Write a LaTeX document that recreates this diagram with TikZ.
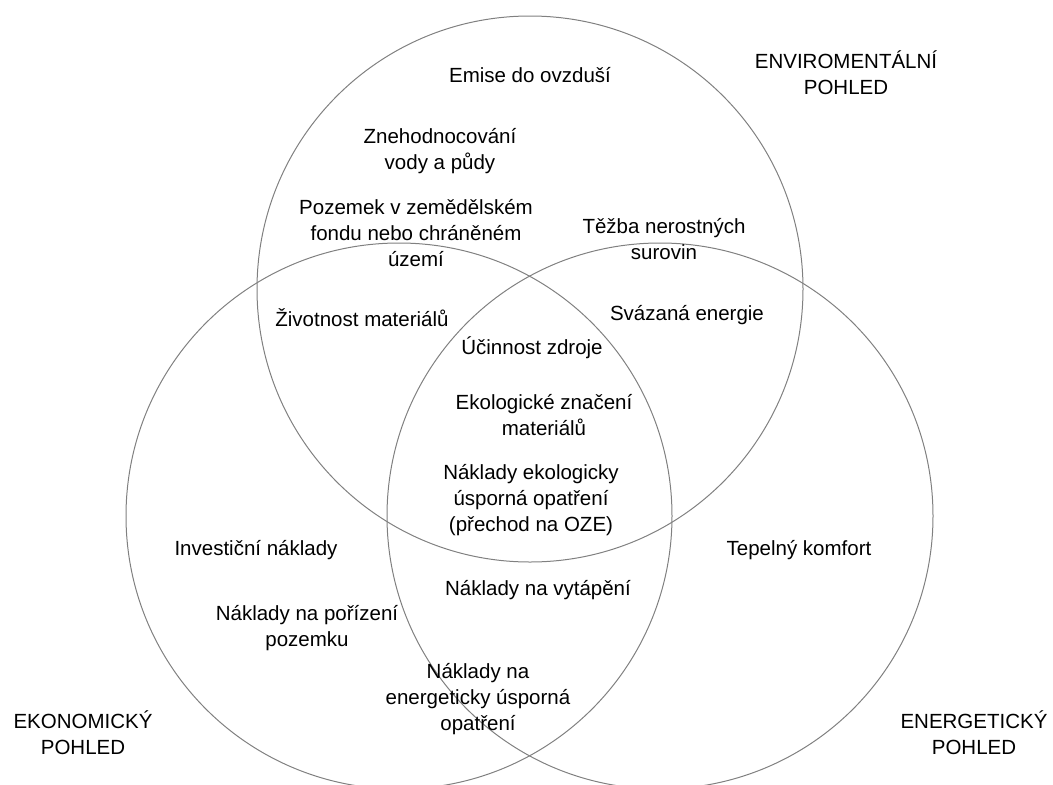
\documentclass[tikz,border=0pt]{standalone}
\usepackage{fontspec}
\setmainfont{Liberation Sans}
\begin{document}
\begin{tikzpicture}[x=1pt, y=-1pt,
  every node/.style = {align=center, inner sep=0pt,
    font=\fontsize{20.5}{26}\selectfont},
  view/.style = {shape=circle, draw=black!50, line width=1pt,
    minimum size=546pt}]

  \useasboundingbox (0,0) rectangle (1053,785);
  \clip (0,0) rectangle (1053,785);

  \node [view] (envi) at (530,289) {};
  \node [view] (ekon) at (399,516) {};
  \node [view] (ener) at (660,516) {};

  \node (envititle) at (846,73) {ENVIROMENTÁLNÍ\\POHLED};
  \node (ekontitle) at (83,733) {EKONOMICKÝ\\POHLED};
  \node (enertitle) at (974,733) {ENERGETICKÝ\\POHLED};

  \node (emise) at (530,75) {Emise do ovzduší};
  \node (voda) at (440,151) {Znehodnocování\\vody a půdy};
  \node (pozemek) at (416,233) {Pozemek v zemědělském\\fondu nebo chráněném\\území};
  \node (tezba) at (664,239) {Těžba nerostných\\surovin};
  \node (zivotnost) at (362,318) {Životnost materiálů};
  \node (svazana) at (687,315) {Svázaná energie};
  \node (ucinnost) at (532,348) {Účinnost zdroje};
  \node (znaceni) at (544,415) {Ekologické značení\\materiálů};
  \node (ekonaklady) at (531,500) {Náklady ekologicky\\úsporná opatření\\(přechod na OZE)};
  \node (investice) at (256,550) {Investiční náklady};
  \node (komfort) at (799,550) {Tepelný komfort};
  \node (vytapeni) at (538,590) {Náklady na vytápění};
  \node (porizeni) at (307,628) {Náklady na pořízení\\pozemku};
  \node (opatreni) at (478,699) {Náklady na\\energeticky úsporná\\opatření};

\end{tikzpicture}
\end{document}
